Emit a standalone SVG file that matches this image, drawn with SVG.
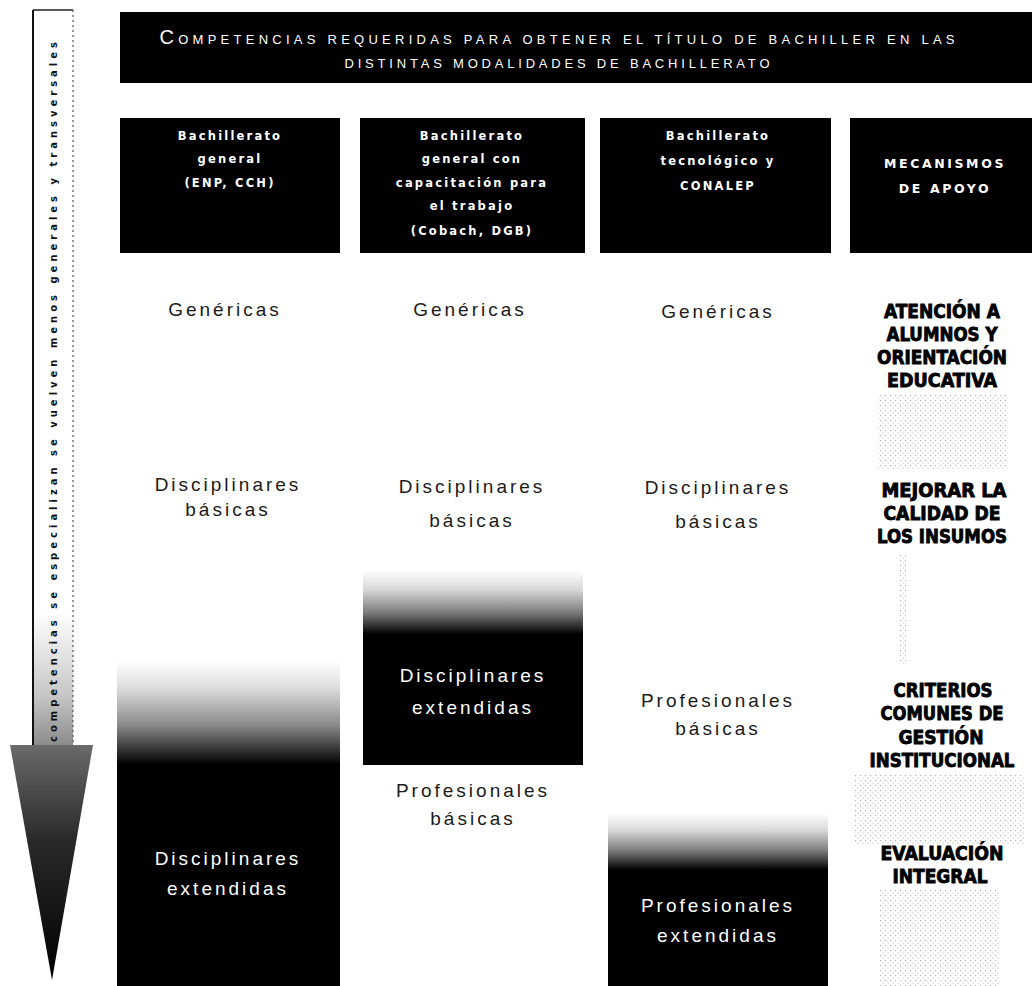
<svg xmlns="http://www.w3.org/2000/svg" width="1032" height="986" viewBox="0 0 1032 986">
<defs>
<style>
.hdr{font-family:"DejaVu Sans",Verdana,sans-serif;font-weight:bold;font-size:11.5px;fill:#fff;text-anchor:middle;letter-spacing:2.2px}
.hdr4{font-family:"DejaVu Sans",Verdana,sans-serif;font-weight:bold;font-size:12.5px;fill:#fff;text-anchor:middle;letter-spacing:2.6px}
.body{font-family:"Liberation Sans",Arial,sans-serif;font-size:19px;fill:#1a1a1a;text-anchor:middle;letter-spacing:3px}
.inv{font-family:"Liberation Sans",Arial,sans-serif;font-size:19px;fill:#fff;text-anchor:middle;letter-spacing:3px}
.mec{font-family:"Liberation Sans Narrow","DejaVu Sans Condensed","Liberation Sans",sans-serif;font-weight:bold;font-size:19px;fill:#000;stroke:#000;stroke-width:0.8px;text-anchor:middle}
.ttl{font-family:"Liberation Sans",Arial,sans-serif;font-size:13px;fill:#fff;text-anchor:middle}
.arr{font-family:"DejaVu Sans",sans-serif;font-weight:bold;font-size:10px;fill:#111;text-anchor:middle}
</style>
<linearGradient id="gBox" x1="0" y1="0" x2="0" y2="1">
<stop offset="0" stop-color="#fff"/>
<stop offset="0.08" stop-color="#e0e0e0"/>
<stop offset="0.2" stop-color="#8a8a8a"/>
<stop offset="0.32" stop-color="#000"/>
<stop offset="1" stop-color="#000"/>
</linearGradient>
<linearGradient id="gBox2" x1="0" y1="0" x2="0" y2="1">
<stop offset="0" stop-color="#fff"/>
<stop offset="0.1" stop-color="#d8d8d8"/>
<stop offset="0.22" stop-color="#7a7a7a"/>
<stop offset="0.33" stop-color="#000"/>
<stop offset="1" stop-color="#000"/>
</linearGradient>
<linearGradient id="gShaft" x1="0" y1="0" x2="0" y2="1">
<stop offset="0" stop-color="#fff"/>
<stop offset="0.82" stop-color="#fff"/>
<stop offset="0.93" stop-color="#c8c8c8"/>
<stop offset="1" stop-color="#8c8c8c"/>
</linearGradient>
<linearGradient id="gHead" x1="0" y1="0" x2="0" y2="1">
<stop offset="0" stop-color="#6a6a6a"/>
<stop offset="0.4" stop-color="#2a2a2a"/>
<stop offset="1" stop-color="#000"/>
</linearGradient>
<pattern id="dots" width="5" height="5" patternUnits="userSpaceOnUse">
<rect x="0" y="0" width="1.2" height="1.2" fill="#777"/>
<rect x="2.5" y="2.5" width="1.2" height="1.2" fill="#999"/>
</pattern>
</defs>
<rect width="1032" height="986" fill="#fff"/>

<g id="arrow">
<rect x="33" y="10" width="40" height="735" fill="url(#gShaft)"/>
<line x1="33" y1="10" x2="33" y2="745" stroke="#111" stroke-width="2"/>
<line x1="33" y1="10" x2="73" y2="10" stroke="#222" stroke-width="1.5"/>
<line x1="73" y1="10" x2="73" y2="745" stroke="#555" stroke-width="1.2" stroke-dasharray="2 3"/>
<polygon points="10,745 93,745 52,980" fill="url(#gHead)"/>
<text class="arr" transform="translate(57,392) rotate(-90)" textLength="700" lengthAdjust="spacing">competencias se especializan se vuelven menos generales y transversales</text>
</g>

<g id="title">
<rect x="120" y="12" width="912" height="71" fill="#000"/>
<text class="ttl" x="557" y="44" textLength="795" lengthAdjust="spacing"><tspan font-size="20">C</tspan>OMPETENCIAS REQUERIDAS PARA OBTENER EL TÍTULO DE BACHILLER EN LAS</text>
<text class="ttl" x="557" y="68" textLength="425" lengthAdjust="spacing">DISTINTAS MODALIDADES DE BACHILLERATO</text>
</g>

<g id="header1">
<rect x="120" y="118" width="220" height="135" fill="#000"/>
<text class="hdr" x="230" y="140">Bachillerato</text>
<text class="hdr" x="230" y="163">general</text>
<text class="hdr" x="230" y="187">(ENP, CCH)</text>
</g>
<g id="header2">
<rect x="360" y="118" width="225" height="135" fill="#000"/>
<text class="hdr" x="472" y="140">Bachillerato</text>
<text class="hdr" x="472" y="163">general con</text>
<text class="hdr" x="472" y="187" letter-spacing="1.6">capacitación para</text>
<text class="hdr" x="472" y="210">el trabajo</text>
<text class="hdr" x="472" y="235">(Cobach, DGB)</text>
</g>
<g id="header3">
<rect x="600" y="118" width="231" height="135" fill="#000"/>
<text class="hdr" x="718" y="140">Bachillerato</text>
<text class="hdr" x="718" y="165">tecnológico y</text>
<text class="hdr" x="718" y="190">CONALEP</text>
</g>
<g id="header4">
<rect x="850" y="118" width="182" height="135" fill="#000"/>
<text class="hdr4" x="945" y="168">MECANISMOS</text>
<text class="hdr4" x="945" y="193">DE APOYO</text>
</g>

<g id="col1-genericas"><text class="body" x="225" y="316">Genéricas</text></g>
<g id="col2-genericas"><text class="body" x="470" y="316">Genéricas</text></g>
<g id="col3-genericas"><text class="body" x="718" y="318">Genéricas</text></g>

<g id="col1-disc-basicas">
<text class="body" x="228" y="491">Disciplinares</text>
<text class="body" x="228" y="516">básicas</text>
</g>
<g id="col2-disc-basicas">
<text class="body" x="472" y="493">Disciplinares</text>
<text class="body" x="472" y="527">básicas</text>
</g>
<g id="col3-disc-basicas">
<text class="body" x="718" y="494">Disciplinares</text>
<text class="body" x="718" y="528">básicas</text>
</g>

<g id="col1-disc-ext">
<rect x="117" y="660" width="223" height="326" fill="url(#gBox)"/>
<text class="inv" x="228" y="865">Disciplinares</text>
<text class="inv" x="228" y="895">extendidas</text>
</g>
<g id="col2-disc-ext">
<rect x="363" y="570" width="220" height="195" fill="url(#gBox2)"/>
<text class="inv" x="473" y="682">Disciplinares</text>
<text class="inv" x="473" y="714">extendidas</text>
</g>
<g id="col2-prof-basicas">
<text class="body" x="473" y="797">Profesionales</text>
<text class="body" x="473" y="825">básicas</text>
</g>
<g id="col3-prof-basicas">
<text class="body" x="718" y="707">Profesionales</text>
<text class="body" x="718" y="735">básicas</text>
</g>
<g id="col3-prof-ext">
<rect x="608" y="813" width="220" height="173" fill="url(#gBox2)"/>
<text class="inv" x="718" y="912">Profesionales</text>
<text class="inv" x="718" y="942">extendidas</text>
</g>

<g id="col4-speckle" opacity="0.55">
<rect x="878" y="395" width="130" height="75" fill="url(#dots)"/>
<rect x="900" y="555" width="6" height="110" fill="url(#dots)"/>
<rect x="855" y="775" width="170" height="70" fill="url(#dots)"/>
<rect x="880" y="890" width="120" height="96" fill="url(#dots)"/>
</g>
<g id="mec1">
<text class="mec" x="942" y="318" textLength="116" lengthAdjust="spacingAndGlyphs">ATENCIÓN A</text>
<text class="mec" x="942" y="341" textLength="111" lengthAdjust="spacingAndGlyphs">ALUMNOS Y</text>
<text class="mec" x="942" y="364" textLength="130" lengthAdjust="spacingAndGlyphs">ORIENTACIÓN</text>
<text class="mec" x="942" y="387" textLength="110" lengthAdjust="spacingAndGlyphs">EDUCATIVA</text>
</g>
<g id="mec2">
<text class="mec" x="944" y="497" textLength="125" lengthAdjust="spacingAndGlyphs">MEJORAR LA</text>
<text class="mec" x="942" y="520" textLength="117" lengthAdjust="spacingAndGlyphs">CALIDAD DE</text>
<text class="mec" x="942" y="543" textLength="130" lengthAdjust="spacingAndGlyphs">LOS INSUMOS</text>
</g>
<g id="mec3">
<text class="mec" x="943" y="697" textLength="99" lengthAdjust="spacingAndGlyphs">CRITERIOS</text>
<text class="mec" x="942" y="720" textLength="123" lengthAdjust="spacingAndGlyphs">COMUNES DE</text>
<text class="mec" x="941" y="744" textLength="85" lengthAdjust="spacingAndGlyphs">GESTIÓN</text>
<text class="mec" x="942" y="767" textLength="145" lengthAdjust="spacingAndGlyphs">INSTITUCIONAL</text>
</g>
<g id="mec4">
<text class="mec" x="942" y="860" textLength="123" lengthAdjust="spacingAndGlyphs">EVALUACIÓN</text>
<text class="mec" x="940" y="883" textLength="95" lengthAdjust="spacingAndGlyphs">INTEGRAL</text>
</g>
</svg>
